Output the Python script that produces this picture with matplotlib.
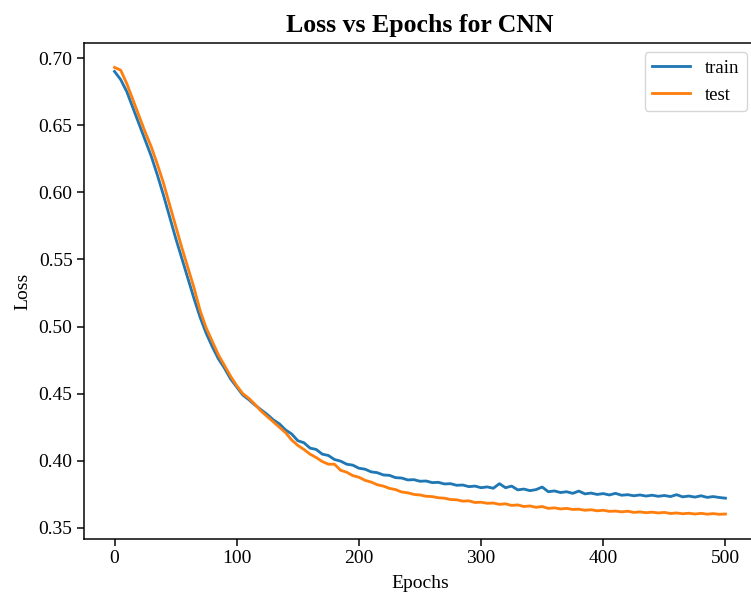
import matplotlib
matplotlib.use("Agg")
import matplotlib.pyplot as plt

# ── Data (every 5 epochs) ─────────────────────────────────────────────────────
EPOCHS = list(range(0, 501, 5))

TRAIN_LOSS = [
    0.690, 0.684, 0.675, 0.663, 0.651, 0.639, 0.627, 0.613, 0.598, 0.582,
    0.566, 0.551, 0.536, 0.521, 0.507, 0.495, 0.485, 0.476, 0.469, 0.461,
    0.455, 0.449, 0.4455, 0.4415, 0.4380, 0.4345, 0.4305, 0.4275, 0.4230, 0.4200,
    0.4150, 0.4135, 0.4095, 0.4085, 0.4050, 0.4040, 0.4010, 0.3998, 0.3975, 0.3968,
    0.3945, 0.3938, 0.3918, 0.3912, 0.3895, 0.3892, 0.3875, 0.3872, 0.3858, 0.3860,
    0.3848, 0.3850, 0.3838, 0.3840, 0.3828, 0.3830, 0.3818, 0.3820, 0.3808, 0.3812,
    0.3800, 0.3806, 0.3796, 0.3830, 0.3800, 0.3812, 0.3784, 0.3790, 0.3778, 0.3786,
    0.3805, 0.3770, 0.3776, 0.3764, 0.3770, 0.3758, 0.3775, 0.3754, 0.3760, 0.3750,
    0.3756, 0.3746, 0.3758, 0.3744, 0.3748, 0.3740, 0.3746, 0.3738, 0.3744, 0.3736,
    0.3742, 0.3734, 0.3748, 0.3732, 0.3738, 0.3730, 0.3740, 0.3728, 0.3734, 0.3727,
    0.3722,
]

TEST_LOSS = [
    0.693, 0.691, 0.681, 0.669, 0.657, 0.645, 0.634, 0.621, 0.607, 0.591,
    0.575, 0.559, 0.544, 0.529, 0.512, 0.499, 0.489, 0.479, 0.471, 0.463,
    0.456, 0.450, 0.4465, 0.4420, 0.4370, 0.4330, 0.4290, 0.4250, 0.4210, 0.4155,
    0.4115, 0.4085, 0.4050, 0.4025, 0.3995, 0.3975, 0.3975, 0.3930, 0.3915, 0.3890,
    0.3878, 0.3855, 0.3842, 0.3822, 0.3812, 0.3795, 0.3786, 0.3768, 0.3762, 0.3750,
    0.3746, 0.3736, 0.3734, 0.3725, 0.3722, 0.3712, 0.3710, 0.3700, 0.3702, 0.3690,
    0.3692, 0.3684, 0.3686, 0.3676, 0.3680, 0.3668, 0.3672, 0.3660, 0.3664, 0.3654,
    0.3660, 0.3646, 0.3650, 0.3642, 0.3646, 0.3638, 0.3640, 0.3632, 0.3636, 0.3628,
    0.3632, 0.3624, 0.3626, 0.3620, 0.3625, 0.3616, 0.3620, 0.3614, 0.3618, 0.3612,
    0.3616, 0.3608, 0.3612, 0.3606, 0.3610, 0.3604, 0.3609, 0.3603, 0.3607, 0.3602,
    0.3604,
]

# ── Style ─────────────────────────────────────────────────────────────────────
SCALE = 1.35   # reference was rendered at ~135 dpi
plt.rcParams["font.family"] = ["Liberation Serif", "DejaVu Serif"]

fig = plt.figure(figsize=(7.51, 6.02), dpi=100)
ax = fig.add_axes([84 / 751, 63 / 602, 672 / 751, 496 / 602])

ax.plot(EPOCHS, TRAIN_LOSS, color="#1f77b4", linewidth=1.5 * SCALE, label="train")
ax.plot(EPOCHS, TEST_LOSS, color="#ff7f0e", linewidth=1.5 * SCALE, label="test")

ax.set_xlim(-25, 525)
ax.set_ylim(0.3418, 0.7112)
ax.set_xticks([0, 100, 200, 300, 400, 500])
ax.set_yticks([0.35, 0.40, 0.45, 0.50, 0.55, 0.60, 0.65, 0.70])
ax.set_yticklabels([f"{v:.2f}" for v in ax.get_yticks()])

ax.tick_params(labelsize=14, length=3.5 * SCALE, width=0.8 * SCALE)
for s in ax.spines.values():
    s.set_linewidth(0.8 * SCALE)

ax.set_xlabel("Epochs", fontsize=14, labelpad=4 * SCALE)
ax.set_ylabel("Loss", fontsize=14, labelpad=4 * SCALE)
ax.set_title("Loss vs Epochs for CNN", fontsize=18.5, fontweight="bold", pad=6 * SCALE)

ax.legend(loc="upper right", fontsize=10 * SCALE)

fig.savefig("out.png", dpi=100)
